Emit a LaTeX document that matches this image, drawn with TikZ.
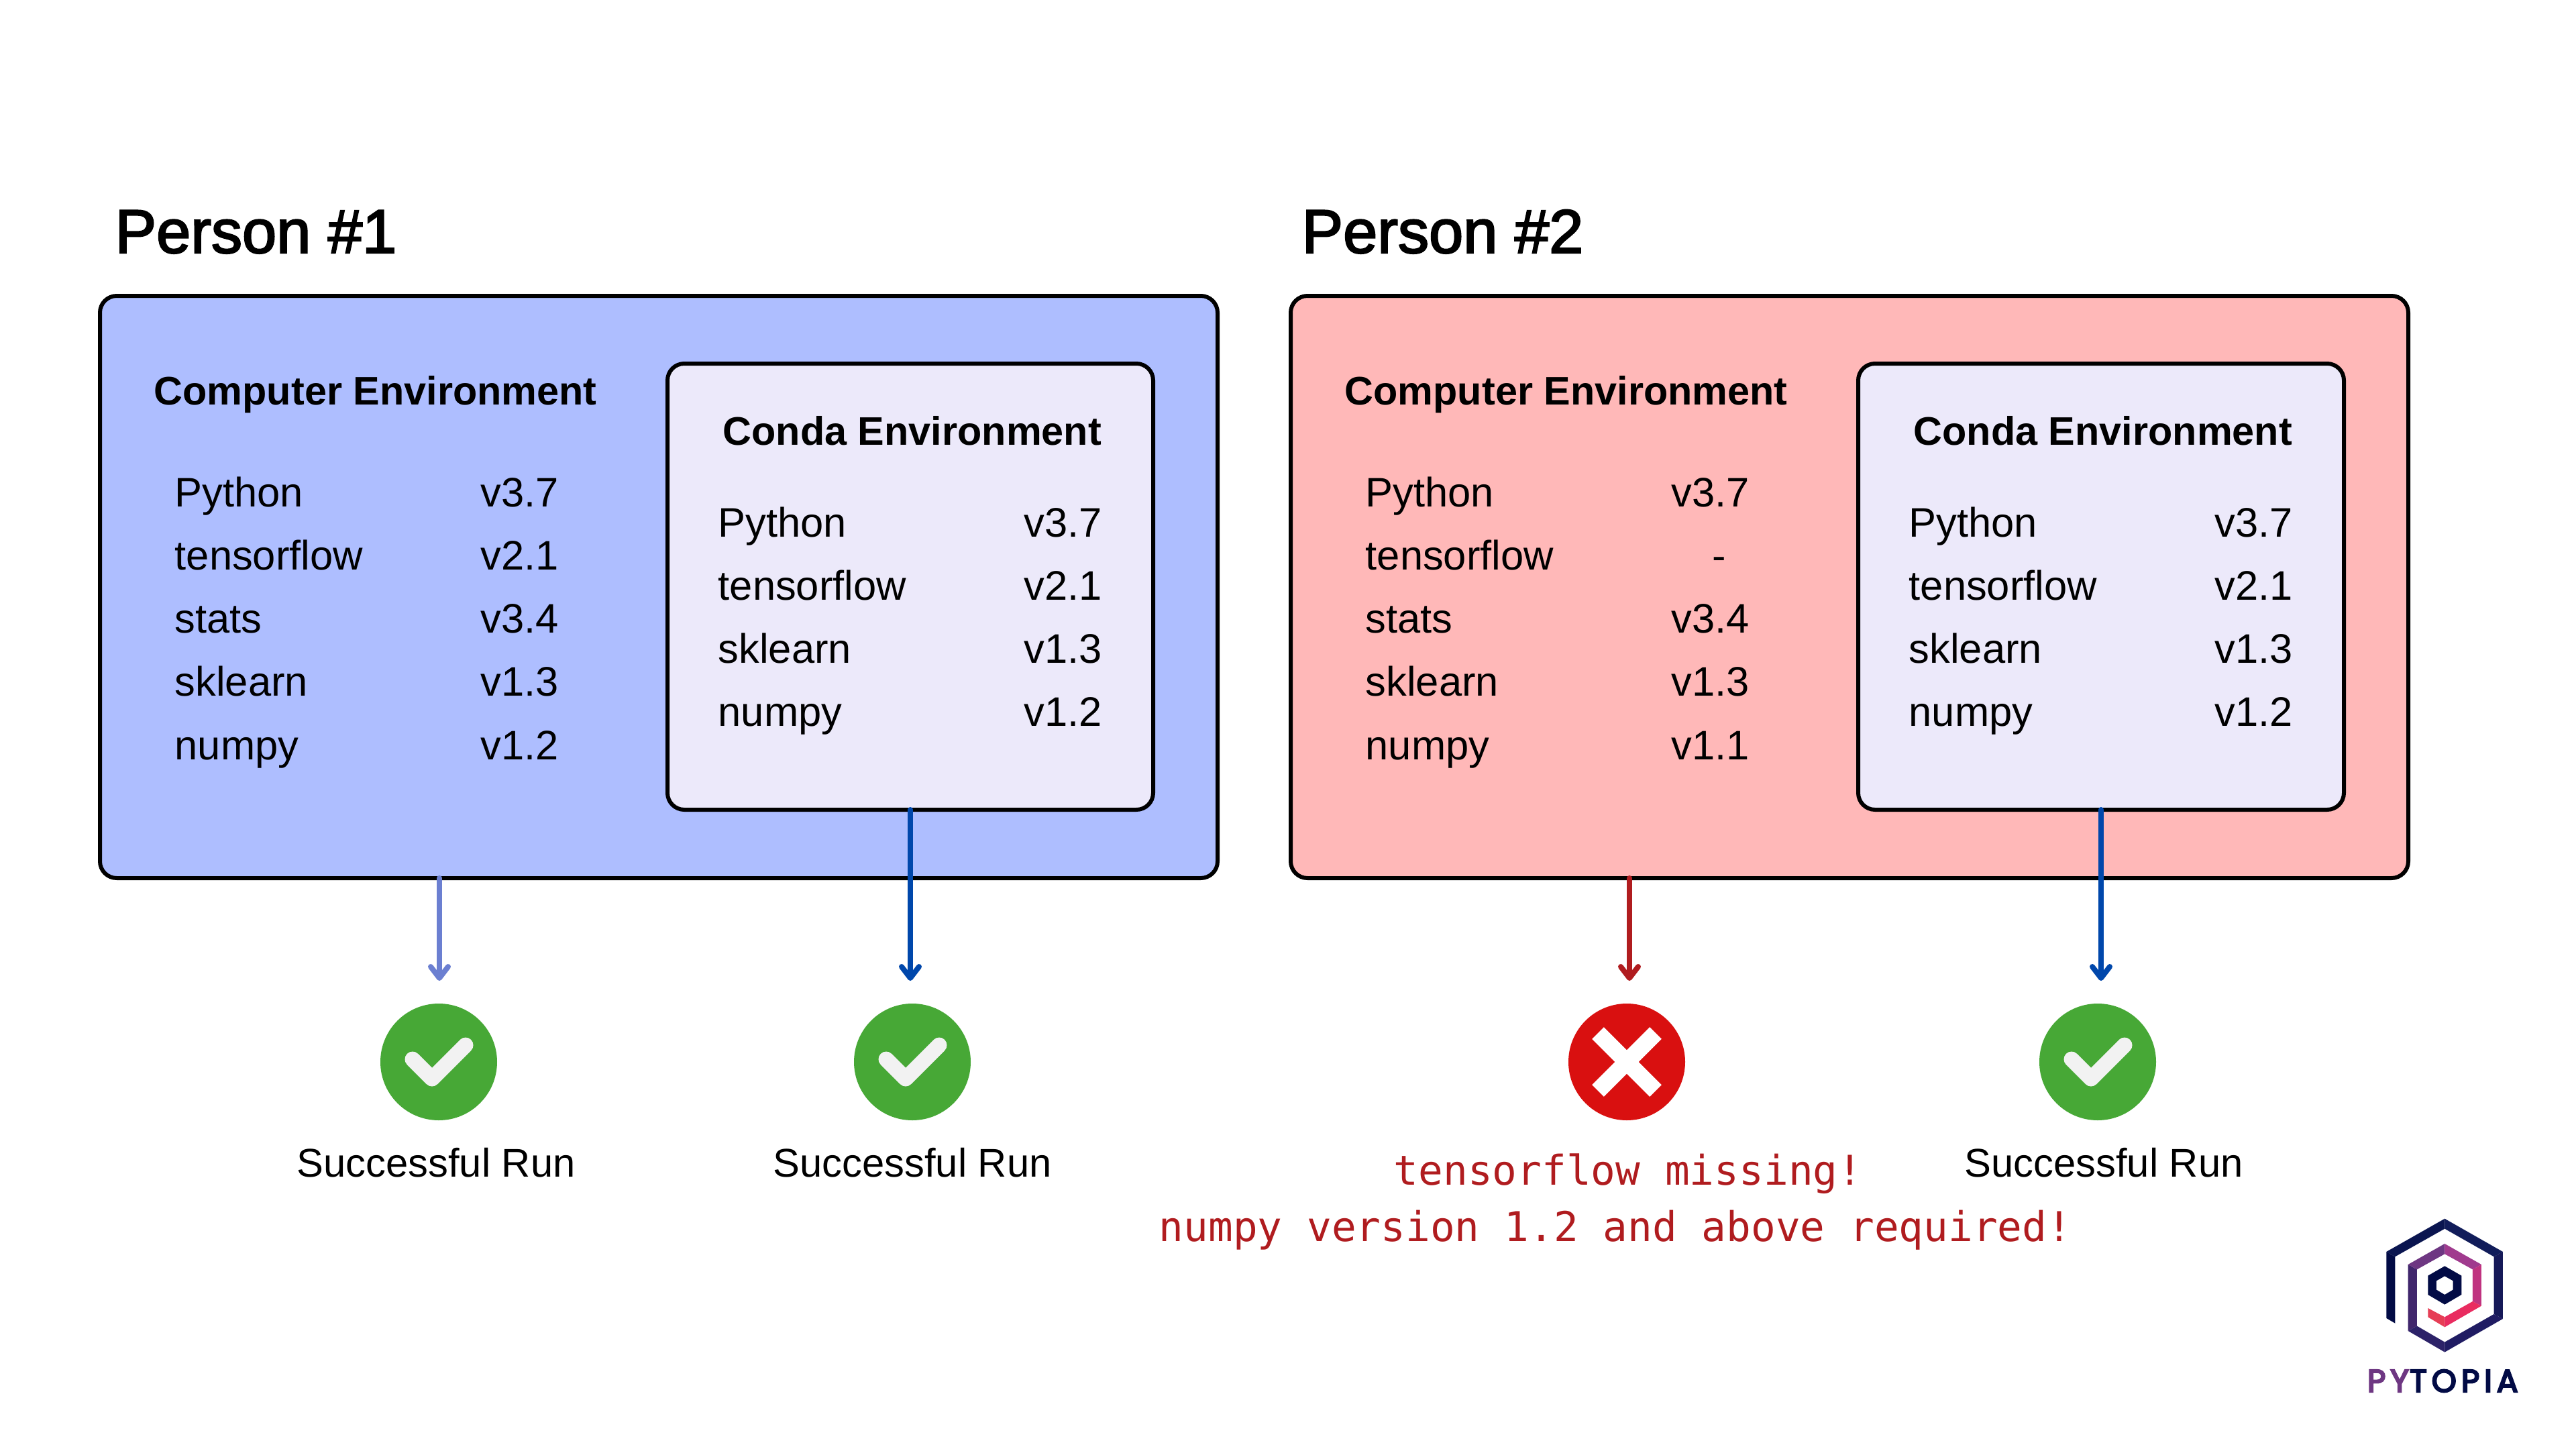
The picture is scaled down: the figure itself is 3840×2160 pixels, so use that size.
\documentclass[tikz,border=0pt]{standalone}
\usepackage{fontspec}
\usepackage{tikz}
\usetikzlibrary{arrows.meta}
\setmainfont{Liberation Sans}
\newfontfamily\personfont[FakeBold=2.5]{Liberation Sans}
\newfontfamily\errorfont{DejaVu Sans Mono}
\newfontfamily\brandfont[FakeBold=5,LetterSpace=15]{Poppins}
\definecolor{panelblue}{HTML}{AEBEFF}
\definecolor{panelpink}{HTML}{FFB8B8}
\definecolor{condafill}{HTML}{ECE9FA}
\definecolor{softblue}{HTML}{6B7FD1}
\definecolor{deepblue}{HTML}{0047AB}
\definecolor{deepred}{HTML}{B01C1F}
\definecolor{okgreen}{HTML}{47A836}
\definecolor{badred}{HTML}{D91010}
\definecolor{tickgrey}{HTML}{F2F2F2}
\definecolor{brandnavy}{HTML}{020B45}
\definecolor{brandpurple}{HTML}{6E3782}
\definecolor{banda}{HTML}{0A1550}
\definecolor{bandb}{HTML}{111C5A}
\definecolor{bandc}{HTML}{161958}
\definecolor{bandd}{HTML}{201C63}
\definecolor{bande}{HTML}{2C2268}
\definecolor{bandf}{HTML}{40266C}
\definecolor{bandg}{HTML}{A03A8E}
\definecolor{bandh}{HTML}{C03380}
\definecolor{bandi}{HTML}{E92C60}
\definecolor{bandj}{HTML}{E63E56}
\begin{document}
\begin{tikzpicture}[x=0.1mm,y=-0.1mm]
	\tikzstyle{envbox}=[draw=black,line width=0.6mm,rounded corners=2.5mm,inner sep=0,outer sep=0]
	\tikzstyle{person}=[anchor=base west,inner sep=0,font=\personfont\fontsize{26.2}{30}\selectfont]
	\tikzstyle{envtitle}=[anchor=base west,inner sep=0,font=\bfseries\fontsize{16.9}{20}\selectfont]
	\tikzstyle{pkg}=[anchor=base west,inner sep=0,font=\fontsize{17.5}{20}\selectfont]
	\tikzstyle{runlabel}=[anchor=base,inner sep=0,font=\fontsize{17}{20}\selectfont]
	\tikzstyle{errlabel}=[anchor=base west,inner sep=0,text=deepred,font=\errorfont\fontsize{17.38}{20}\selectfont]
	\tikzstyle{badge}=[circle,minimum size=17.4mm,inner sep=0,outer sep=0]
	\tikzstyle{runarrow}=[line width=0.8mm,line cap=round,-{Straight Barb[round,length=1.7mm,width=2.6mm]}]
	\tikzstyle{tick}=[draw=tickgrey,line width=2.3mm,line cap=round,line join=round]
	\tikzstyle{cross}=[draw=white,line width=2.5mm]
	\tikzstyle{brand}=[anchor=base west,inner sep=0,font=\brandfont\fontsize{13.4}{16}\selectfont]
	\useasboundingbox (0,0) rectangle (3840,2160);
	\fill[white] (0,0) rectangle (3840,2160);

	\node[person](titlea) at (171,377){Person \#1};
	\node[person](titleb) at (1940,377){Person \#2};

	\node[envbox,fill=panelblue,minimum width=166.6mm,minimum height=86.8mm](boxa) at (982,875){};
	\node[envbox,fill=panelpink,minimum width=166.6mm,minimum height=86.8mm](boxb) at (2757,875){};
	\node[envbox,fill=condafill,minimum width=72.4mm,minimum height=66.5mm](condaa) at (1357,874.5){};
	\node[envbox,fill=condafill,minimum width=72.4mm,minimum height=66.5mm](condab) at (3132,874.5){};

	\node[envtitle](compa) at (229,603){Computer Environment};
	\node[pkg](a1) at (260,755){Python};
	\node[pkg](a2) at (260,849){tensorflow};
	\node[pkg](a3) at (260,943){stats};
	\node[pkg](a4) at (260,1037){sklearn};
	\node[pkg](a5) at (260,1132){numpy};
	\node[pkg](av1) at (716,755){v3.7};
	\node[pkg](av2) at (716,849){v2.1};
	\node[pkg](av3) at (716,943){v3.4};
	\node[pkg](av4) at (716,1037){v1.3};
	\node[pkg](av5) at (716,1132){v1.2};

	\node[envtitle](condatitlea) at (1077,663){Conda Environment};
	\node[pkg](c1) at (1070,800){Python};
	\node[pkg](c2) at (1070,894){tensorflow};
	\node[pkg](c3) at (1070,988){sklearn};
	\node[pkg](c4) at (1070,1082){numpy};
	\node[pkg](cv1) at (1526,800){v3.7};
	\node[pkg](cv2) at (1526,894){v2.1};
	\node[pkg](cv3) at (1526,988){v1.3};
	\node[pkg](cv4) at (1526,1082){v1.2};

	\node[envtitle](compb) at (2004,603){Computer Environment};
	\node[pkg](b1) at (2035,755){Python};
	\node[pkg](b2) at (2035,849){tensorflow};
	\node[pkg](b3) at (2035,943){stats};
	\node[pkg](b4) at (2035,1037){sklearn};
	\node[pkg](b5) at (2035,1132){numpy};
	\node[pkg](bv1) at (2491,755){v3.7};
	\node[pkg](bv2) at (2552,849){-};
	\node[pkg](bv3) at (2491,943){v3.4};
	\node[pkg](bv4) at (2491,1037){v1.3};
	\node[pkg](bv5) at (2491,1132){v1.1};

	\node[envtitle](condatitleb) at (2852,663){Conda Environment};
	\node[pkg](d1) at (2845,800){Python};
	\node[pkg](d2) at (2845,894){tensorflow};
	\node[pkg](d3) at (2845,988){sklearn};
	\node[pkg](d4) at (2845,1082){numpy};
	\node[pkg](dv1) at (3301,800){v3.7};
	\node[pkg](dv2) at (3301,894){v2.1};
	\node[pkg](dv3) at (3301,988){v1.3};
	\node[pkg](dv4) at (3301,1082){v1.2};

	\node[badge,fill=okgreen](oka) at (654,1583){};
	\node[badge,fill=okgreen](okb) at (1360,1583){};
	\node[badge,fill=badred](bad) at (2425,1583){};
	\node[badge,fill=okgreen](okc) at (3127,1583){};

	\coordinate(tipa) at (655,1462);
	\coordinate(tipb) at (1357,1462);
	\coordinate(tipc) at (2429,1462);
	\coordinate(tipd) at (3132,1462);
	\path[runarrow]
		(boxa.south -| tipa) edge[softblue] node {}(tipa)
		(condaa.south) edge[deepblue] node {}(tipb)
		(boxb.south -| tipc) edge[deepred] node {}(tipc)
		(condab.south) edge[deepblue] node {}(tipd);

	\draw[tick] (615,1579) -- (644,1608) -- (694,1558);
	\draw[tick] (1321,1579) -- (1350,1608) -- (1400,1558);
	\draw[tick] (3088,1579) -- (3117,1608) -- (3167,1558);
	\draw[cross] (2382,1540) -- (2468,1626);
	\draw[cross] (2468,1540) -- (2382,1626);

	\node[runlabel](runa) at (650,1754){Successful Run};
	\node[runlabel](runb) at (1360,1754){Successful Run};
	\node[runlabel](runc) at (3136,1754){Successful Run};
	\node[errlabel](erra) at (2077,1766){tensorflow missing!};
	\node[errlabel](errb) at (1727,1850){numpy version 1.2 and above required!};

	\begin{scope}[shift={(3450,1780)},x=0.03333mm,y=-0.03333mm]
		\fill[brandnavy] (322,555) -- (322,258) -- (361,280) -- (361,578) -- cycle;
		\fill[banda] (322,258) -- (583,110) -- (583,155) -- (361,280) -- cycle;
		\fill[bandb] (583,110) -- (843,258) -- (803,280) -- (583,155) -- cycle;
		\fill[bandc] (843,258) -- (843,558) -- (803,537) -- (803,280) -- cycle;
		\fill[bandd] (843,558) -- (583,707) -- (583,662) -- (803,537) -- cycle;
		\fill[bande] (583,707) -- (419,612) -- (459,590) -- (583,662) -- cycle;
		\fill[bandf] (419,612) -- (419,315) -- (459,337) -- (459,590) -- cycle;
		\fill[brandpurple] (419,315) -- (583,222) -- (583,268) -- (459,337) -- cycle;
		\fill[bandg] (583,222) -- (747,315) -- (708,337) -- (583,268) -- cycle;
		\fill[bandh] (747,315) -- (747,500) -- (708,480) -- (708,337) -- cycle;
		\fill[bandi] (747,500) -- (583,595) -- (583,550) -- (708,480) -- cycle;
		\fill[bandj] (583,595) -- (508,550) -- (508,510) -- (583,550) -- cycle;
		\fill[brandnavy,even odd rule] (583,322) -- (658,365) -- (658,450) -- (583,494) -- (508,450) -- (508,365) -- cycle
			(583,367) -- (620,388) -- (620,428) -- (583,450) -- (546,428) -- (546,388) -- cycle;
		\node[brand,text=brandpurple](brandpy) at (235,885){PY};
		\node[brand,text=brandnavy,anchor=base west](brandrest) at (brandpy.base east){TOPIA};
	\end{scope}
\end{tikzpicture}
\end{document}
